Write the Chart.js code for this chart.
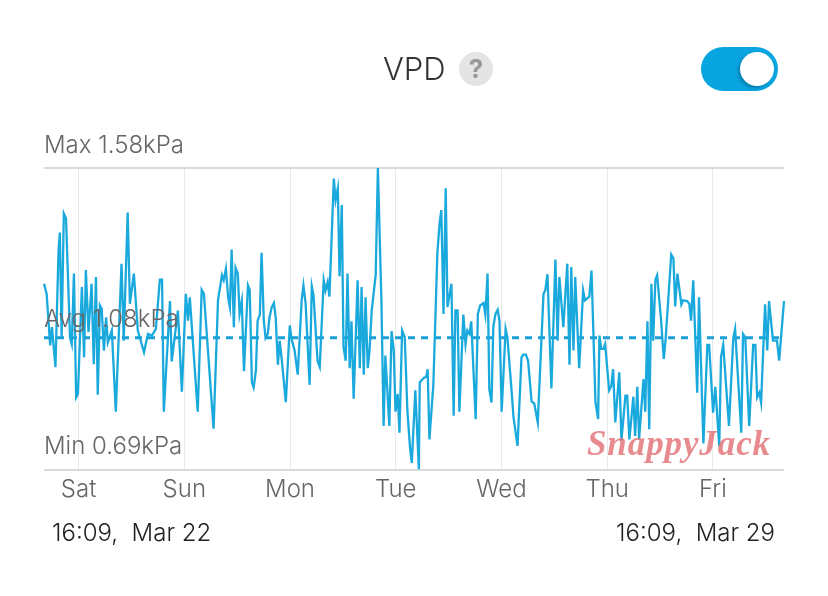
<!DOCTYPE html>
<html>
<head>
<meta charset="utf-8">
<title>VPD</title>
<script src="https://cdn.jsdelivr.net/npm/chart.js@4"></script>
<style>
    body { margin: 0; background: #fff; font-family: Inter, sans-serif; }
    #wrap { position: relative; width: 828px; height: 596px; overflow: hidden; }
    #vpd-chart { position: absolute; left: 0; top: 0; }
    .abs { position: absolute; white-space: pre; }
    #title { left: 383px; top: 50px; font-size: 31px; font-weight: 300; line-height: 38px; color: #333; }
    #help { left: 459px; top: 52px; width: 34px; height: 34px; border-radius: 50%; background: #e4e4e4;
            color: #999; font-size: 26px; font-weight: 700; line-height: 34px; text-align: center; }
    #toggle { left: 701px; top: 47px; width: 77px; height: 44px; border-radius: 22px; background: #08a5e0; }
    #knob { position: absolute; left: 39px; top: 5px; width: 34px; height: 34px; border-radius: 50%;
            background: #fff; box-shadow: -2px 2px 3px rgba(0, 80, 120, .45); }
    .range { top: 519px; font-size: 24px; font-weight: 300; line-height: 27px; color: #222; }
    #from { left: 52px; }
    #to { right: 53px; }
    #mark { left: 587px; top: 424px; font: italic bold 35px "Liberation Serif", serif; letter-spacing: 0.9px;
            color: rgba(226, 110, 115, .8); }
</style>
</head>
<body>
<div id="wrap">
    <canvas id="vpd-chart" width="828" height="596"></canvas>
    <div class="abs" id="title">VPD</div>
    <div class="abs" id="help">?</div>
    <div class="abs" id="toggle"><div id="knob"></div></div>
    <div class="abs range" id="from">16:09,  Mar 22</div>
    <div class="abs range" id="to">16:09,  Mar 29</div>
    <div class="abs" id="mark">SnappyJack</div>
</div>
<script>
//vpd readings - hours since the start of the window, and kPa
const sampleHours = [0,0.6,1.4,1.8,2.6,3.3,3.6,4,4.5,5,5.9,6.3,6.8,7.3,7.7,8.6,9.1,9.5,10.1,10.8,
    11.3,11.8,12.2,12.7,13.1,13.6,14.1,14.5,15.4,16.3,17.6,18.1,19,19.5,20.4,21.3,22.7,23.6,24.5,25.4,
    26.3,26.8,27.2,28.6,29,30.4,31.3,32.2,32.7,33.1,34.9,35.8,36.3,38.5,39.5,40.4,40.8,41.3,41.8,42.2,
    42.6,43.1,43.5,44,44.4,44.9,45.4,46.3,46.7,47.2,47.6,48.1,48.5,49,49.4,49.9,50.3,50.8,51.2,51.7,
    52.2,52.6,53.1,53.5,54,54.9,55.8,56.2,56.9,57.6,58.5,58.9,59.4,60.3,60.8,61.2,62.1,62.6,63.5,63.9,
    64.4,64.8,65.8,66.2,66.7,67.1,67.6,68,68.5,68.9,69.4,69.8,70.3,71.2,71.7,72.1,72.6,73,73.5,73.9,
    74.4,75.3,75.8,76.6,77.1,77.5,78.4,78.9,79.4,79.8,80.3,80.7,81.3,81.9,82.5,83.1,83.5,84.3,85.1,85.3,
    86.2,86.8,87.1,87.5,88.4,89.3,89.8,90.2,90.7,91.2,91.6,92.5,93,93.4,93.9,94.3,95.2,95.7,96.1,96.6,
    97,98,98.5,99,99.8,100.2,100.7,101.1,101.6,102,102.5,103,103.4,103.9,104.8,105.2,106.1,106.6,107.5,108.4,
    108.8,109.4,109.9,110.7,111.3,112.1,113.4,113.8,114.3,115.2,116.1,116.6,117,117.9,118.8,119.3,119.7,120.2,120.6,121.5,
    122.4,122.8,123.8,124.3,125.2,125.8,126.1,126.5,127,127.4,128.3,128.8,129.2,129.7,130.6,131.1,132,132.4,132.9,133.8,
    134.2,134.7,135.1,136.1,136.5,137,137.4,137.9,138.3,138.8,139.2,140.1,140.7,141.1,142.4,142.9,143.3,143.8,144.7,145.1,
    146,146.5,146.9,147.4,148.3,148.7,149.7,150.6,151,151.9,152.4,153.3,153.7,154.2,155.5,156.5,156.9,158.3,158.7,159.2,
    160.1,161,161.5,161.9,162.4,162.8,163.7,164.2,164.6,165.5,166.4,166.9,168];
const vpdValues = [1.239,1.209,1.057,1.111,0.993,1.338,1.39,1.081,1.446,1.431,1.081,1.061,1.269,0.904,0.914,1.229,1.022,1.279,1.096,1.239,
    1.002,1.259,0.912,1.175,1.165,1.042,1.14,1.066,1.101,0.862,1.298,1.071,1.449,1.18,1.269,1.101,1.037,1.091,1.086,1.106,
    1.251,1.251,0.862,1.188,1.01,1.16,0.921,1.209,1.13,1.199,0.862,1.221,1.209,0.812,1.19,1.264,1.249,1.283,1.199,1.17,
    1.34,1.111,1.286,1.269,1.15,1.188,0.981,1.234,1.221,0.948,0.933,0.982,1.13,1.148,1.33,1.13,1.079,1.091,1.14,1.17,
    1.182,1.14,1,1.071,1.012,0.89,1.116,1.076,1.042,0.971,1.19,1.234,1.18,0.941,1.231,1.204,1.012,0.994,1.249,1.219,
    1.244,1.201,1.549,1.485,1.52,1.261,1.471,1.052,1.012,1.269,0.99,1.128,0.9,1.249,0.99,1.229,0.971,1.199,0.99,1.042,
    1.16,1.264,1.58,1.19,0.82,1.027,0.82,1.099,1.042,0.862,0.914,0.8,1.101,1.081,0.864,0.756,0.711,0.925,0.692,0.948,
    0.961,0.965,0.987,0.78,0.943,1.328,1.416,1.456,1.15,1.52,1.17,1.239,0.85,1.16,1.16,0.862,1.148,1.061,1.101,1.091,
    1.128,0.84,1.15,1.175,1.182,1.148,1.269,0.928,0.889,1.111,1.15,1.162,1.13,0.862,1.106,1.081,0.933,0.844,0.761,1.022,
    1.03,1.03,1.012,0.892,0.886,0.83,1.209,1.219,1.267,0.93,1.31,1.071,1.259,1.111,1.298,1,1.288,1.042,1.259,0.99,
    1.219,1.19,1.201,1.278,0.889,0.84,1.086,1.047,1.047,1.061,0.925,0.938,0.987,0.83,0.978,0.778,0.909,0.909,0.78,0.906,
    0.79,0.935,0.78,0.958,0.862,1.128,0.81,1.239,1.071,1.251,1.264,1.13,1.017,1.071,1.325,1.313,1.172,1.269,1.178,1.19,
    1.188,1.18,1.13,1.249,0.918,1.199,0.768,1.059,1.059,0.859,0.935,0.761,1.022,1.059,0.82,1.081,1.106,0.8,1.091,1.081,
    0.82,1.059,1.059,0.904,0.918,0.889,1.178,1.042,1.188,1.071,1.071,1.012,1.188];

const avgHours = [0, 168];
const avgValues = [1.08, 1.08];

//axis labels - midnights inside the window
const dayHours = [7.85, 31.85, 55.85, 79.85, 103.85, 127.85, 151.85];
const dayLabels = ['Sat', 'Sun', 'Mon', 'Tue', 'Wed', 'Thu', 'Fri'];

const minVpd = 0.69;
const maxVpd = 1.58;
const avgVpd = 1.08;

const labelGrey = '#666666';
const lineBlue = '#1aa9dd';
const labelFont = '300 24px Inter, sans-serif';

//max, avg and min captions sit just above their levels
const levelLabels = {
    id: 'levelLabels',
    afterDatasetsDraw(chart) {
        const ctx = chart.ctx;
        const y = chart.scales.y;
        const left = chart.chartArea.left;
        ctx.save();
        ctx.font = labelFont;
        ctx.fillStyle = labelGrey;
        ctx.textBaseline = 'alphabetic';
        ctx.fillText('Max ' + maxVpd.toFixed(2) + 'kPa', left, y.getPixelForValue(maxVpd) - 15);
        ctx.fillText('Avg ' + avgVpd.toFixed(2) + 'kPa', left, y.getPixelForValue(avgVpd) - 11);
        ctx.fillText('Min ' + minVpd.toFixed(2) + 'kPa', left, y.getPixelForValue(minVpd) - 16);
        ctx.restore();
    }
};

let vpdChart = new Chart(document.getElementById('vpd-chart'), {
    type: 'line',
    data: {
        datasets: [{
            data: sampleHours.map((h, i) => ({x: h, y: vpdValues[i]})),
            borderColor: lineBlue,
            borderWidth: 2.3,
            pointRadius: 0,
            tension: 0,
            clip: 2
        }, {
            data: avgHours.map((h, i) => ({x: h, y: avgValues[i]})),
            borderColor: '#1a9fd6',
            borderWidth: 3,
            borderDash: [7, 6],
            pointRadius: 0
        }]
    },
    options: {
        responsive: false,
        animation: false,
        layout: {
            padding: {left: 44, right: 44, top: 168, bottom: 0}
        },
        scales: {
            x: {
                type: 'linear',
                min: 0,
                max: 168,
                afterBuildTicks(axis) {
                    axis.ticks = dayHours.map(h => ({value: h}));
                },
                afterFit(axis) {
                    axis.height = 126;
                },
                grid: {color: '#e9e9e9', lineWidth: 1, drawTicks: false},
                border: {display: false},
                ticks: {
                    autoSkip: false,
                    maxRotation: 0,
                    padding: 5,
                    color: labelGrey,
                    font: {family: 'Inter, sans-serif', size: 24, weight: '300'},
                    callback: (value, index) => dayLabels[index]
                }
            },
            y: {
                min: minVpd,
                max: maxVpd,
                afterBuildTicks(axis) {
                    axis.ticks = [{value: minVpd}, {value: maxVpd}];
                },
                afterFit(axis) {
                    axis.width = 0;
                },
                grid: {color: '#d9d9d9', lineWidth: 2, drawTicks: false},
                border: {display: false},
                ticks: {display: false}
            }
        },
        plugins: {
            legend: {display: false},
            tooltip: {enabled: false}
        }
    },
    plugins: [levelLabels]
});
</script>
</body>
</html>
